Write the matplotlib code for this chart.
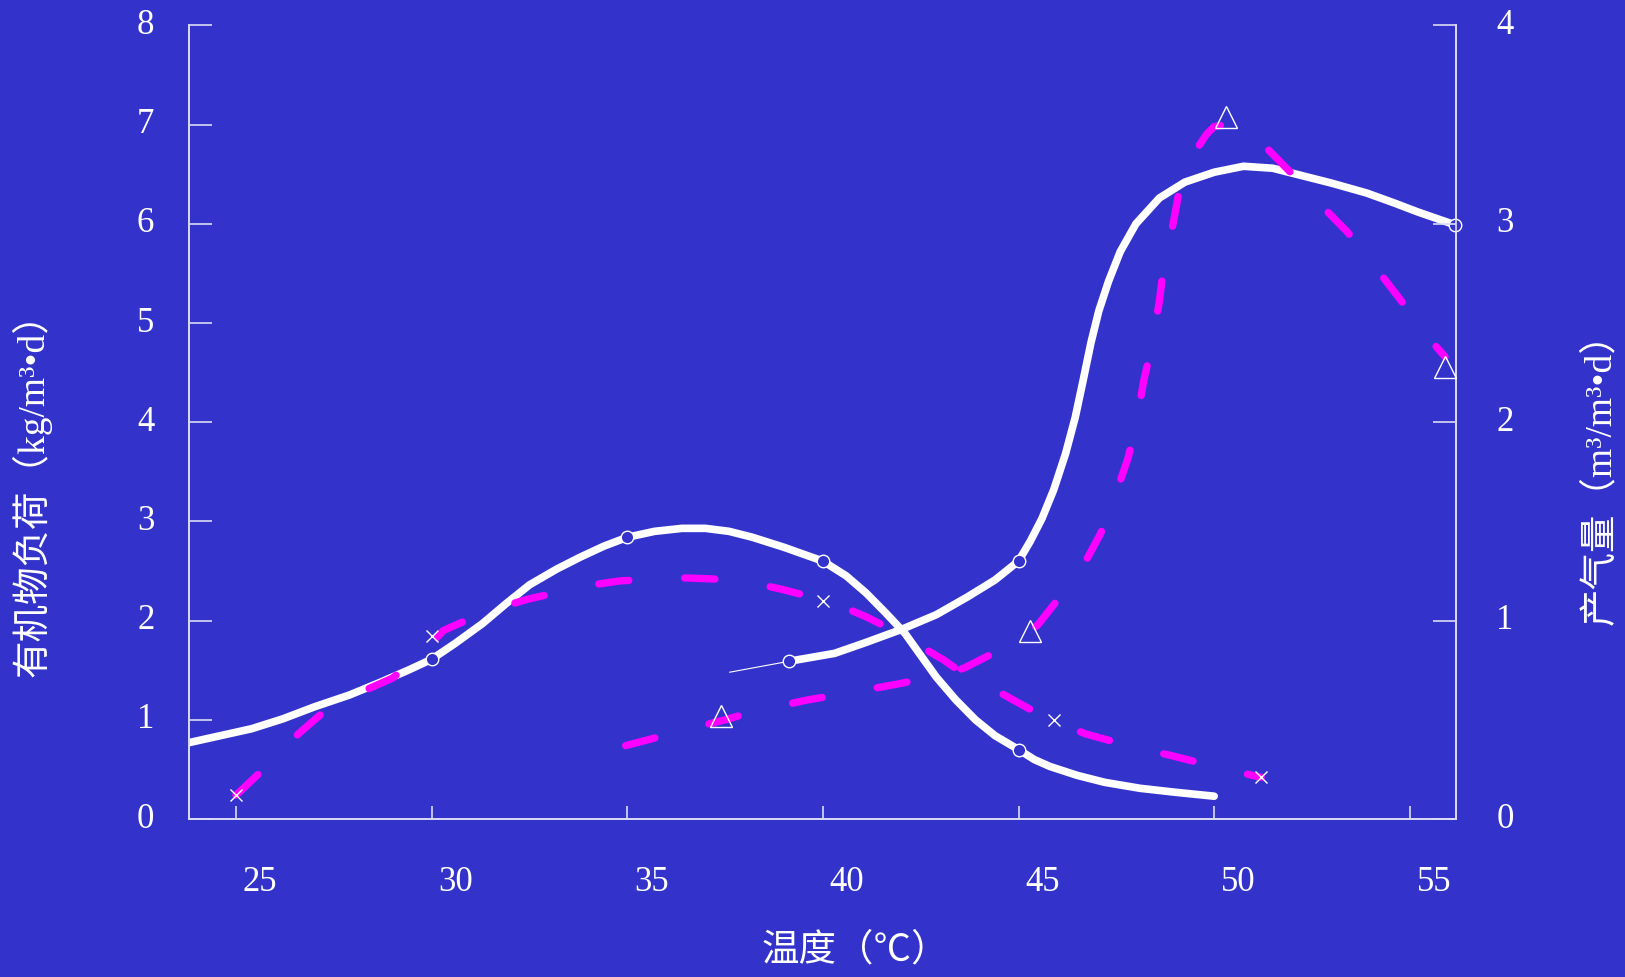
import matplotlib.pyplot as plt
import matplotlib.transforms as mtransforms

plt.rcParams['font.family'] = ['Liberation Serif', 'Noto Sans CJK SC', 'DejaVu Sans']

# 有机物负荷 (左轴) - 白色实线
temp_a = [23.8, 24.6, 25.4, 26.2, 27.0, 27.9, 28.7, 29.4, 30.0, 30.6, 31.3, 31.9,
          32.5, 33.2, 33.8, 34.4, 35.0, 35.7, 36.4, 37.0, 37.6, 38.2, 39.0, 40.0,
          40.6, 41.1, 41.6, 42.1, 42.5, 42.9, 43.4, 43.9, 44.4, 45.0, 45.4, 45.8,
          46.5, 47.2, 48.1, 49.0, 50.0]
load_a = [0.77, 0.84, 0.91, 1.01, 1.13, 1.25, 1.38, 1.50, 1.61, 1.77, 1.97, 2.17,
          2.36, 2.52, 2.64, 2.75, 2.84, 2.90, 2.93, 2.93, 2.90, 2.84, 2.74, 2.60,
          2.45, 2.28, 2.08, 1.87, 1.65, 1.43, 1.20, 1.00, 0.84, 0.70, 0.60, 0.53,
          0.44, 0.37, 0.31, 0.27, 0.23]
mark_a_x = [30, 35, 40, 45]
mark_a_y = [1.61, 2.84, 2.60, 0.70]

temp_b = [39.13, 40.3, 41.1, 42.0, 42.9, 43.7, 44.4, 45.0, 45.3, 45.6, 45.9, 46.2,
          46.45, 46.65, 46.85, 47.05, 47.3, 47.6, 48.0, 48.6, 49.25, 50.0, 50.75,
          51.5, 52.2, 53.0, 53.9, 54.6, 55.2, 56.15]
load_b = [1.59, 1.67, 1.78, 1.91, 2.06, 2.24, 2.41, 2.60, 2.80, 3.03, 3.32, 3.68,
          4.05, 4.42, 4.80, 5.12, 5.42, 5.72, 6.00, 6.26, 6.42, 6.52, 6.58,
          6.56, 6.49, 6.41, 6.31, 6.21, 6.12, 5.99]
lead_b_x = [37.62, 39.13]
lead_b_y = [1.48, 1.59]
mark_b_x = [39.13, 45, 56.15]
mark_b_y = [1.59, 2.60, 5.99]

# 产气量 (右轴) - 品红虚线
temp_c = [25.0, 25.7, 26.6, 27.3, 28.2, 29.0, 29.7, 30.3, 31.1, 31.8, 32.5, 33.4,
          34.1, 34.8, 35.8, 36.5, 37.2, 38.2, 38.9, 39.5, 40.5, 41.1, 41.7, 42.5,
          43.1, 43.6, 44.5, 45.6, 46.7, 47.8, 48.9, 50.1, 51.2]
gas_c = [0.12, 0.25, 0.43, 0.55, 0.64, 0.71, 0.82, 0.95, 1.02, 1.07, 1.11, 1.15,
         1.18, 1.20, 1.21, 1.215, 1.21, 1.19, 1.16, 1.13, 1.07, 1.02, 0.96, 0.87,
         0.80, 0.73, 0.64, 0.52, 0.43, 0.37, 0.32, 0.26, 0.21]
mark_c_x = [25.0, 30.0, 40.0, 45.9, 51.2]
mark_c_y = [0.12, 0.92, 1.10, 0.50, 0.21]

temp_d = [34.96, 37.1, 37.5, 38.2, 39.6, 40.5, 41.9, 42.9, 43.6, 44.2, 45.0, 45.5,
          45.9, 46.5, 47.1, 47.4, 47.8, 48.0, 48.2, 48.4, 48.6, 48.7, 48.95, 49.1,
          49.35, 49.6, 49.8, 50.0, 50.3, 50.8, 51.3, 51.9, 52.8, 53.4, 54.2, 54.75,
          55.5, 55.9]
gas_d = [0.37, 0.48, 0.50, 0.54, 0.60, 0.63, 0.68, 0.72, 0.76, 0.82, 0.90, 0.98,
         1.08, 1.22, 1.44, 1.59, 1.82, 1.98, 2.21, 2.38, 2.61, 2.77, 3.00, 3.16,
         3.30, 3.39, 3.45, 3.49, 3.50, 3.46, 3.39, 3.27, 3.08, 2.96, 2.76, 2.62,
         2.42, 2.33]
mark_d_x = [37.4, 45.3, 50.3, 55.9]
mark_d_y = [0.52, 0.95, 3.54, 2.28]

x_ticks = [25, 30, 35, 40, 45, 50, 55]
left_ticks = [0, 1, 2, 3, 4, 5, 6, 7, 8]
right_ticks = [0, 1, 2, 3, 4]

bg = '#3333cc'
edge = '#dcdcf5'
fig = plt.figure(figsize=(16.25, 9.77), dpi=100, facecolor=bg)
ax = fig.add_axes([0.1163, 0.1617, 0.7797, 0.8123])
ax.set_facecolor(bg)
ax2 = ax.twinx()

ax.plot(temp_a, load_a, color='white', lw=5.5, solid_capstyle='round', solid_joinstyle='round')
ax.plot(temp_b, load_b, color='white', lw=5.5, solid_capstyle='round', solid_joinstyle='round')
ax.plot(lead_b_x, lead_b_y, color='white', lw=0.8)
ax.plot(mark_a_x, mark_a_y, 'o', ms=9, mfc=bg, mec='white', mew=1.0, zorder=5)
ax.plot(mark_b_x, mark_b_y, 'o', ms=9, mfc=bg, mec='white', mew=1.0, zorder=5, clip_on=False)

ax2.plot(temp_c, gas_c, color='#ff00ff', lw=5.3, ls=(0, (4.1, 7.6)),
         dash_capstyle='round', dash_joinstyle='round')
ax2.plot(temp_d, gas_d, color='#ff00ff', lw=5.3, ls=(0, (4.1, 7.6)),
         dash_capstyle='round', dash_joinstyle='round')
ax2.plot(mark_c_x, mark_c_y, 'x', ms=8, mec='white', mew=1.0, zorder=5)
ax2.plot(mark_d_x, mark_d_y, '^', ms=16, mfc='none', mec='white', mew=1.0, zorder=5, clip_on=False)

ax.set_xlim(23.8, 56.18)
ax.set_ylim(0, 8)
ax2.set_ylim(0, 4)

for a in (ax, ax2):
    a.spines['top'].set_visible(False)
    for s in ('left', 'right', 'bottom'):
        a.spines[s].set_color(edge)
        a.spines[s].set_linewidth(1.2)

ax.set_xticks(x_ticks)
ax.set_yticks(left_ticks)
ax2.set_yticks(right_ticks)
ax.tick_params(axis='x', direction='in', length=9.4, width=1.2, color=edge,
               labelcolor='white', labelsize=25, pad=34)
ax.tick_params(axis='y', direction='in', length=16.5, width=1.2, color=edge,
               labelcolor='white', labelsize=25, pad=25)
ax2.tick_params(axis='y', direction='in', length=16.5, width=1.2, color=edge,
                labelcolor='white', labelsize=25, pad=29)

shift_x = mtransforms.ScaledTranslation(0.24, 0, fig.dpi_scale_trans)
for lab in ax.get_xticklabels():
    lab.set_transform(lab.get_transform() + shift_x)
shift_y = mtransforms.ScaledTranslation(0, 0.04, fig.dpi_scale_trans)
for lab in ax.get_yticklabels() + ax2.get_yticklabels():
    lab.set_transform(lab.get_transform() + shift_y)

ax.set_xlabel('温度（℃）', color='white', fontsize=27, va='center')
ax.xaxis.set_label_coords(0.526, -0.166)
ax.set_ylabel('有机物负荷（kg/m³•d）', color='white', fontsize=27, va='center')
ax.yaxis.set_label_coords(-0.124, 0.42)
ax2.set_ylabel('产气量（m³/m³•d）', color='white', fontsize=27, va='center', rotation=90)
ax2.yaxis.set_label_coords(1.114, 0.44)

plt.savefig('out.png', dpi=100, facecolor=bg)
